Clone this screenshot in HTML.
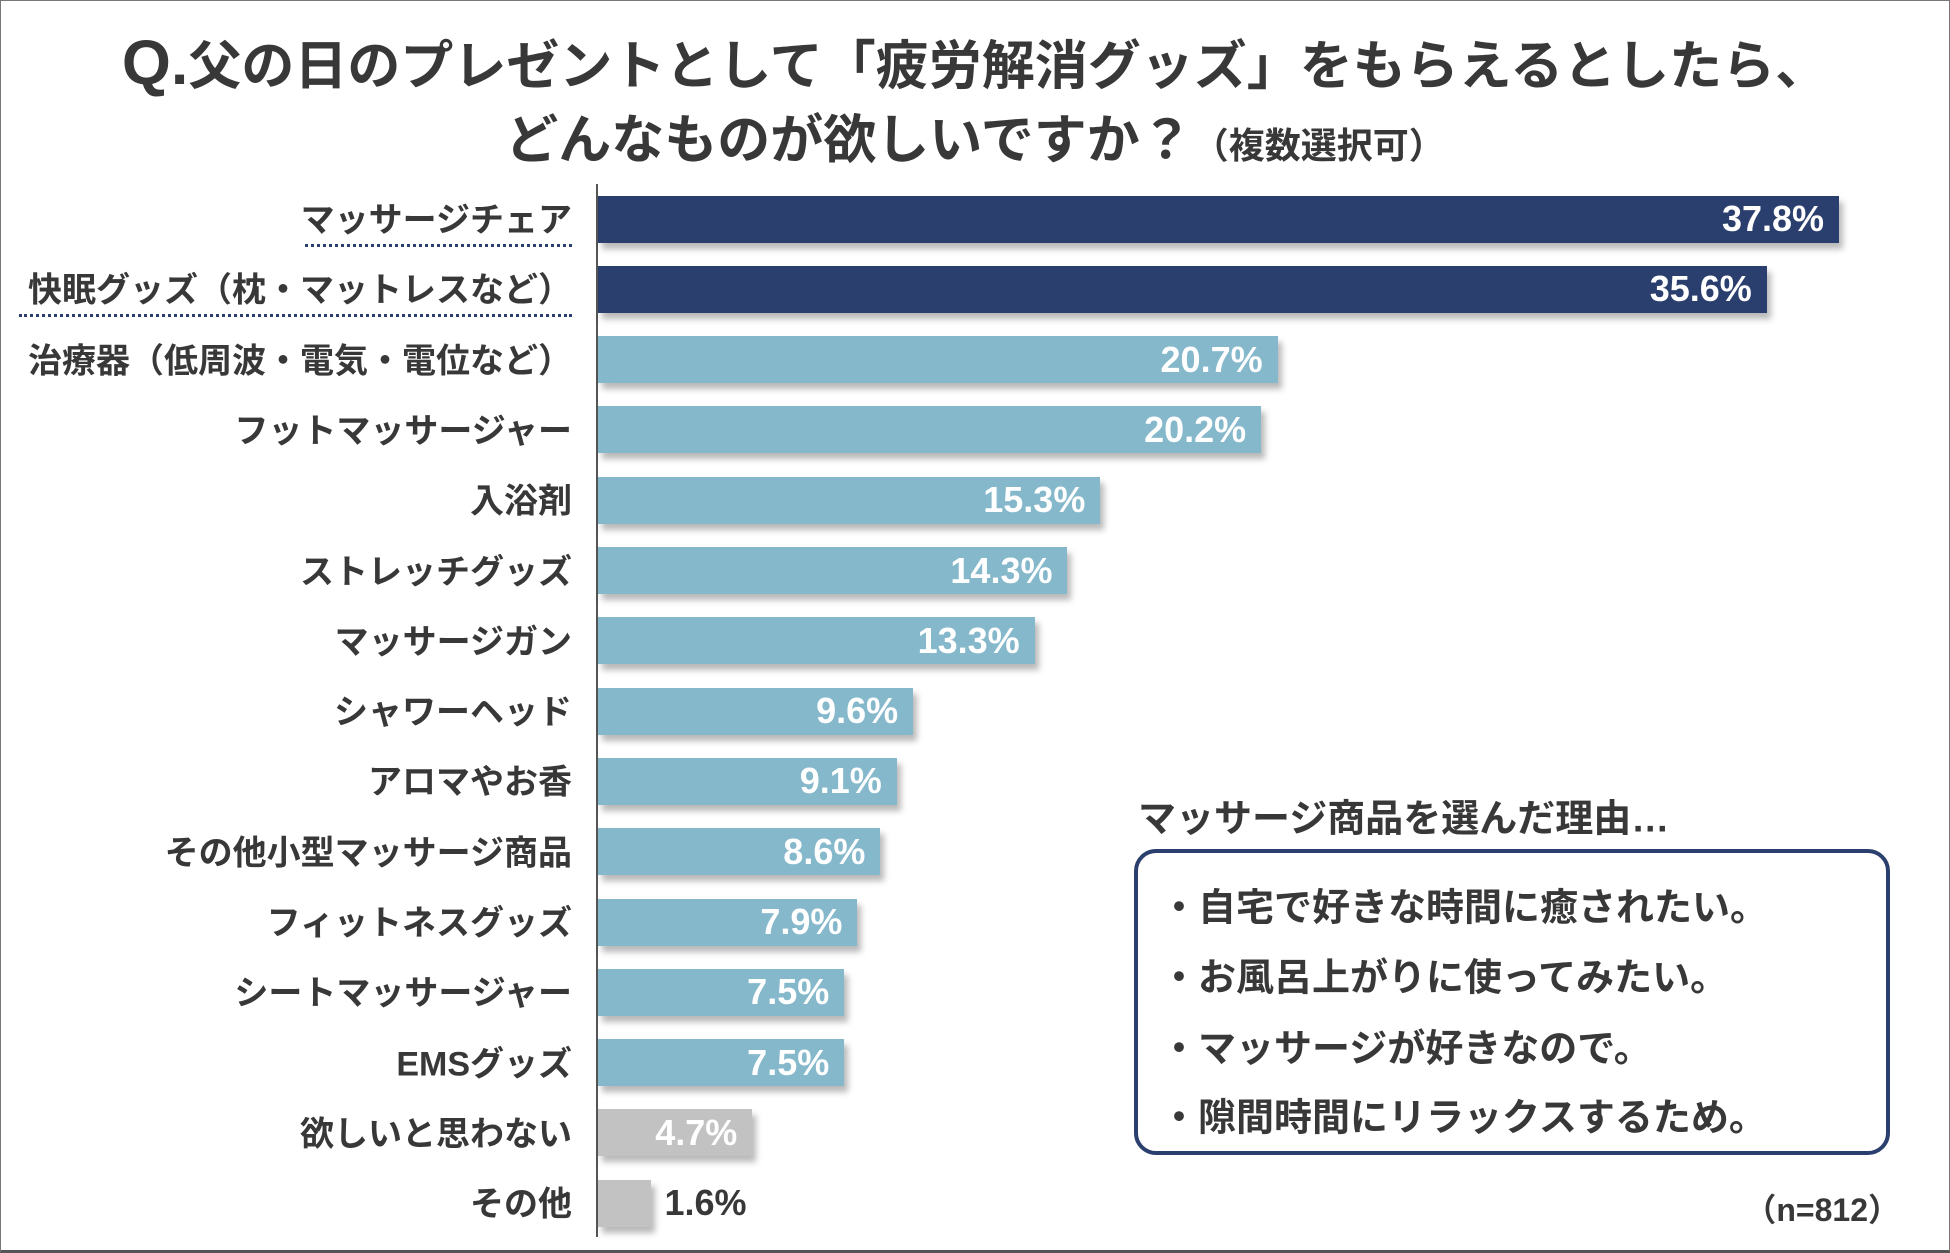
<!DOCTYPE html>
<html><head><meta charset="utf-8"><style>
html,body{margin:0;padding:0;background:#fff}
body{width:1950px;height:1253px;position:relative;overflow:hidden;font-family:"Liberation Sans","Noto Sans CJK JP",sans-serif;color:#383838}
#frame{position:absolute;left:0;top:0;width:1948px;height:1249px;border:1px solid #777;border-bottom:3px solid #555}
.title{position:absolute;left:0;width:1950px;text-align:center;font-weight:bold;white-space:nowrap}
.lbl{position:absolute;right:1378px;font-size:34px;font-weight:bold;white-space:nowrap;transform:translateY(-50%)}
.dots{position:absolute;border-top:3px dotted #2b3f6e;height:0}
.bar{position:absolute;box-shadow:4px 6px 6px rgba(0,0,0,.28)}
.val{position:absolute;font-size:36px;font-weight:bold;transform:translateY(-50%);white-space:nowrap}
#box{position:absolute;left:1134px;top:849px;width:756px;height:306px;border:4px solid #2b3f6e;border-radius:22px;box-sizing:border-box}
.item{position:absolute;left:1160px;font-size:38px;font-weight:bold;transform:translateY(-50%);white-space:nowrap}
</style></head><body>
<div id="frame"></div>
<div class="title" style="top:24px;font-size:53px"><span style="font-size:63px">Q.</span>父の日のプレゼントとして「疲労解消グッズ」をもらえるとしたら、</div>
<div class="title" style="top:98px;font-size:53px">どんなものが欲しいですか？<span style="font-size:36px">（複数選択可）</span></div>
<div id="chart"></div>
<div style="position:absolute;left:596px;top:184px;width:2px;height:1053px;background:#555"></div>
<div class="dots" style="left:305px;width:267px;top:244px"></div>
<div class="dots" style="left:19px;width:553px;top:314px"></div>
<div style="position:absolute;left:1138px;top:815px;font-size:38px;font-weight:bold;transform:translateY(-50%);white-space:nowrap">マッサージ商品を選んだ理由…</div>
<div id="box"></div>
<div class="item" style="top:904px">・自宅で好きな時間に癒されたい。</div>
<div class="item" style="top:974px">・お風呂上がりに使ってみたい。</div>
<div class="item" style="top:1045px">・マッサージが好きなので。</div>
<div class="item" style="top:1114px">・隙間時間にリラックスするため。</div>
<div style="position:absolute;right:50px;top:1208px;font-size:32px;font-weight:bold;transform:translateY(-50%)">（n=812）</div>
<script>
const categories=["マッサージチェア","快眠グッズ（枕・マットレスなど）","治療器（低周波・電気・電位など）","フットマッサージャー","入浴剤","ストレッチグッズ","マッサージガン","シャワーヘッド","アロマやお香","その他小型マッサージ商品","フィットネスグッズ","シートマッサージャー","EMSグッズ","欲しいと思わない","その他"];
const values=[37.8,35.6,20.7,20.2,15.3,14.3,13.3,9.6,9.1,8.6,7.9,7.5,7.5,4.7,1.6];
const groups=["top","top","mid","mid","mid","mid","mid","mid","mid","mid","mid","mid","mid","none","none"];
const colors={top:"#2b3f6e",mid:"#85b8cb",none:"#c2c2c2"};
const x0=598,pxPer=26.4*1.2436,y0=219,step=70.3,bh=47;
const xs=v=>v*pxPer, ys=i=>y0+i*step;
const body=document.body;
categories.forEach((c,i)=>{
  const y=ys(i),w=xs(values[i]);
  const l=document.createElement('div');l.className='lbl';l.style.top=(y-2)+'px';l.textContent=c;
  
  
  body.appendChild(l);
  const b=document.createElement('div');b.className='bar';
  b.style.cssText+=`left:${x0}px;top:${y-bh/2}px;width:${w}px;height:${bh}px;background:${colors[groups[i]]}`;
  
  
  body.appendChild(b);
  const t=document.createElement('div');t.className='val';t.textContent=values[i].toFixed(1)+'%';t.style.top=y+'px';
  if(w>100){t.style.right=(1950-(x0+w)+15)+'px';t.style.color='#fff';}
  else{t.style.left=(x0+w+14)+'px';t.style.color='#383838';}
  
  
  body.appendChild(t);
});
</script>
</body></html>
